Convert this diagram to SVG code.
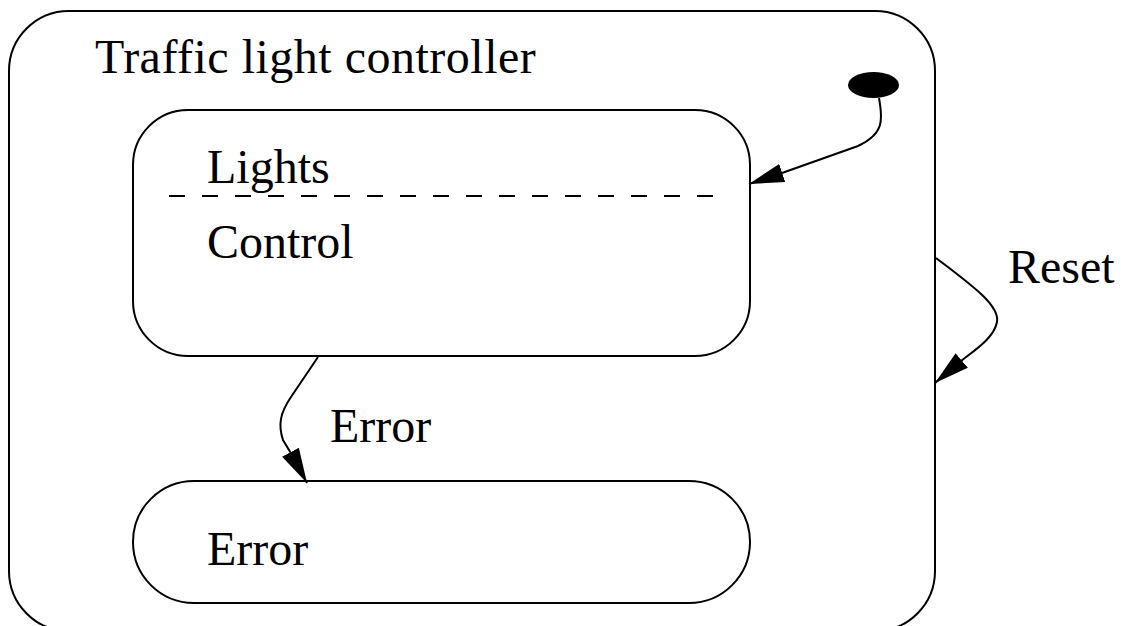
<svg xmlns="http://www.w3.org/2000/svg" width="1124" height="626" viewBox="0 0 1124 626">
  <style>
    .state { fill: #ffffff; stroke: #000000; stroke-width: 2; }
    .label { font-family: "Liberation Serif", "Times New Roman", serif; font-size: 48px; fill: #000000; font-variant-ligatures: none; }
    .title { letter-spacing: 0.5px; }
    .divider { stroke: #000000; stroke-width: 2; stroke-dasharray: 16 17; fill: none; }
    .edge { fill: none; stroke: #000000; stroke-width: 2; marker-end: url(#arrow); }
  </style>
  <defs>
    <marker id="arrow" markerUnits="userSpaceOnUse" markerWidth="40" markerHeight="24" viewBox="0 -12 40 24" refX="35" refY="0" orient="auto">
      <path d="M0,-9.5 L35,0 L0,9.5 z" fill="#000000"/>
    </marker>
  </defs>
  <rect width="1124" height="626" fill="#ffffff"/>

  <g id="controller">
    <rect class="state" x="9" y="11" width="926" height="620" rx="60" ry="60"/>
    <text class="label title" x="95" y="73">Traffic light controller</text>
  </g>

  <g id="initial">
    <ellipse cx="873.5" cy="85" rx="25.5" ry="13" fill="#000000"/>
  </g>

  <g id="lights-control">
    <rect class="state" x="133" y="110" width="617" height="246" rx="55" ry="55"/>
    <text class="label" x="207" y="183">Lights</text>
    <line class="divider" x1="169" y1="196" x2="716" y2="196"/>
    <text class="label" x="207" y="258">Control</text>
  </g>

  <g id="error-state">
    <rect class="state" x="133" y="481" width="617" height="122" rx="61" ry="61"/>
    <text class="label" x="207" y="565">Error</text>
  </g>

  <g id="connectors">
    <path class="edge" d="M879,98 C883,120 884,134 858,146 L782,173 L749,184"/>
    <path class="edge" d="M936,258 C970,284 1000,305 997,322 C994,338 975,350 961,361 L935,383"/>
    <path class="edge" d="M318,357 L291,397 C280,413 278,425 283,440 L292,455 L307,483"/>
    <text class="label" x="1008" y="283">Reset</text>
    <text class="label" x="330" y="442">Error</text>
  </g>
</svg>
